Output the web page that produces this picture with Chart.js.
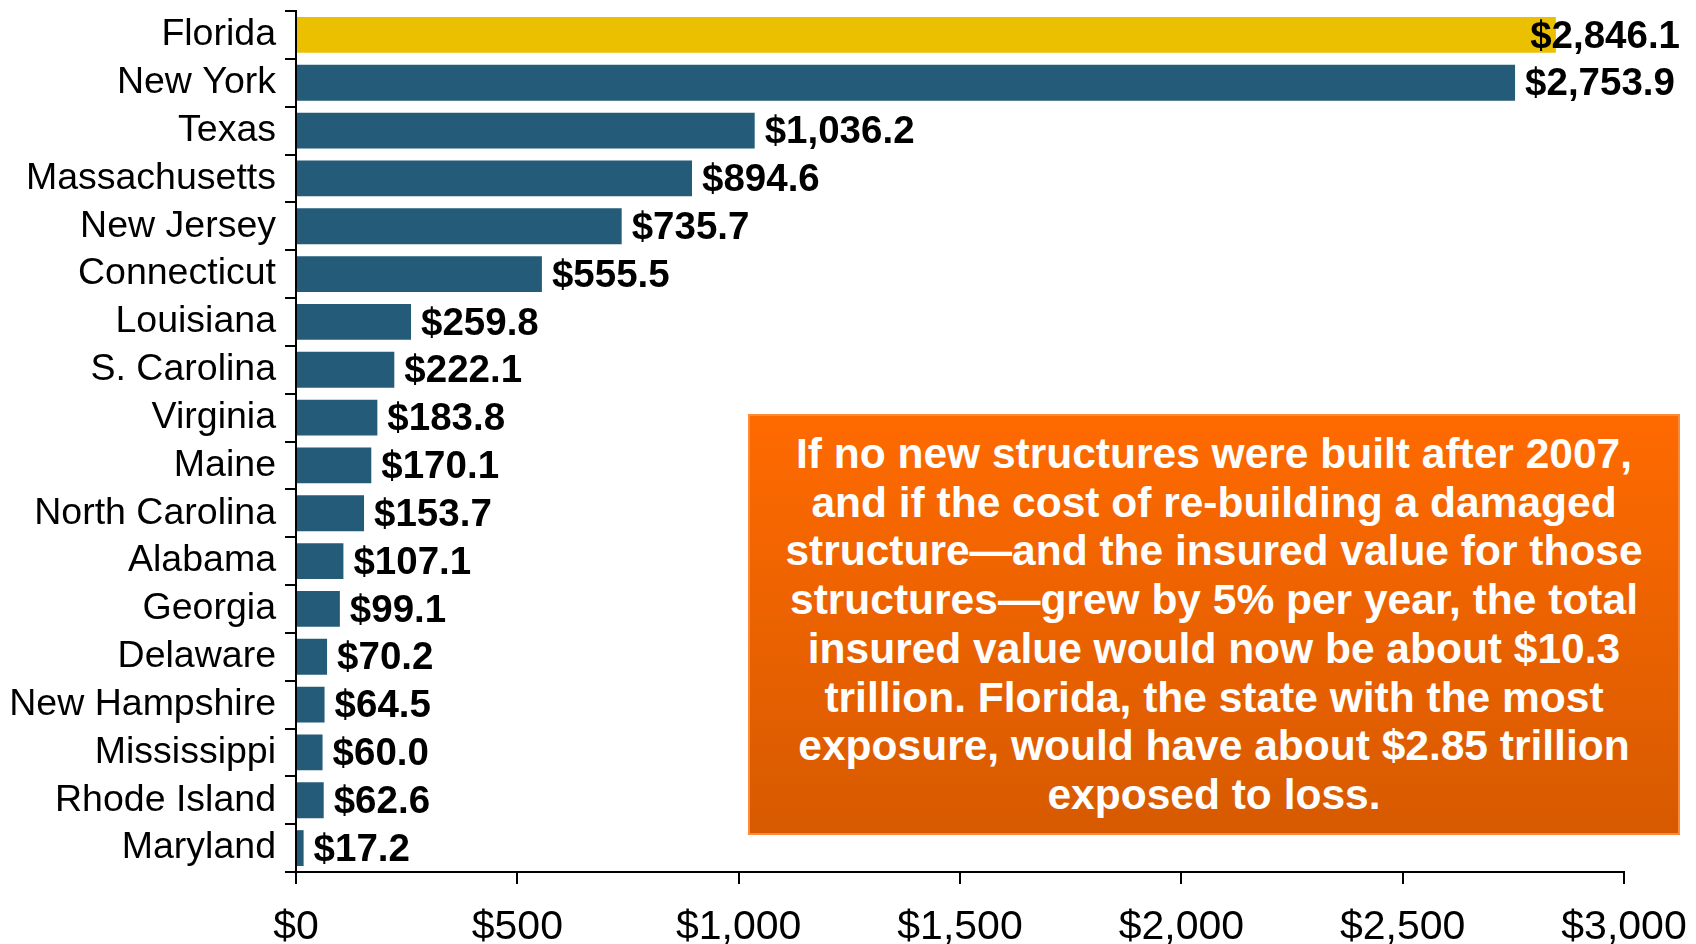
<!DOCTYPE html>
<html>
<head>
<meta charset="utf-8">
<script src="https://cdn.jsdelivr.net/npm/chart.js@4/dist/chart.umd.min.js"></script>
<style>
  html, body { margin: 0; padding: 0; background: #fff; overflow: hidden; }
  #wrap { position: relative; width: 1696px; height: 944px; }
  #note {
    position: absolute; left: 748px; top: 414px; width: 928px; height: 403px;
    border: 2px solid #ff8a3a;
    background: linear-gradient(#ff6a00, #d75a00);
    color: #fff; font: bold 42.5px "Liberation Sans", Arial, sans-serif;
    line-height: 48.7px; text-align: center; padding-top: 14px; box-sizing: content-box;
    white-space: nowrap;
  }
</style>
</head>
<body>
<div id="wrap">
  <canvas id="chart" width="1696" height="944"></canvas>
  <div id="note">If no new structures were built after 2007,<br>and if the cost of re-building a damaged<br>structure—and the insured value for those<br>structures—grew by 5% per year, the total<br>insured value would now be about $10.3<br>trillion. Florida, the state with the most<br>exposure, would have about $2.85 trillion<br>exposed to loss.</div>
</div>
<script>
const states = ['Florida', 'New York', 'Texas', 'Massachusetts', 'New Jersey', 'Connecticut',
  'Louisiana', 'S. Carolina', 'Virginia', 'Maine', 'North Carolina', 'Alabama', 'Georgia',
  'Delaware', 'New Hampshire', 'Mississippi', 'Rhode Island', 'Maryland'];
const exposure = [2846.1, 2753.9, 1036.2, 894.6, 735.7, 555.5, 259.8, 222.1, 183.8, 170.1,
  153.7, 107.1, 99.1, 70.2, 64.5, 60.0, 62.6, 17.2];
const xTicks = [0, 500, 1000, 1500, 2000, 2500, 3000];

const FONT = '"Liberation Sans", Arial, sans-serif';
const money = v => '$' + v.toLocaleString('en-US');
const money1 = v => '$' + v.toLocaleString('en-US', { minimumFractionDigits: 1, maximumFractionDigits: 1 });

// value labels at bar ends, pulled back in when they would run off the page
const valueLabels = {
  id: 'valueLabels',
  afterDatasetsDraw(chart) {
    const ctx = chart.ctx;
    const meta = chart.getDatasetMeta(0);
    ctx.save();
    ctx.font = 'bold 38.5px ' + FONT;
    ctx.fillStyle = '#000';
    ctx.textBaseline = 'middle';
    ctx.textAlign = 'left';
    meta.data.forEach((bar, i) => {
      const txt = money1(exposure[i]);
      const w = ctx.measureText(txt).width;
      let x = bar.x + 10;
      if (x + w > chart.width - 16) x = chart.width - 16 - w;
      ctx.fillText(txt, x, bar.y + 2);
    });
    ctx.restore();
  }
};

new Chart(document.getElementById('chart'), {
  type: 'bar',
  data: {
    labels: states,
    datasets: [{
      data: exposure,
      backgroundColor: states.map((s, i) => i === 0 ? '#ebc000' : '#235b79'),
      borderWidth: 0,
      barPercentage: 0.75,
      categoryPercentage: 1
    }]
  },
  options: {
    indexAxis: 'y',
    responsive: false,
    animation: false,
    layout: { padding: { top: 11, right: 72, left: 0, bottom: 0 } },
    plugins: { legend: { display: false }, tooltip: { enabled: false } },
    scales: {
      x: {
        min: 0, max: 3000,
        afterBuildTicks: s => { s.ticks = xTicks.map(v => ({ value: v })); },
        afterFit: s => { s.height = 72; s.paddingLeft = 0; s.paddingRight = 0; },
        ticks: { color: '#000', font: { family: FONT, size: 41 }, padding: 19, callback: v => money(v), maxRotation: 0 },
        grid: { drawOnChartArea: false, color: '#000', lineWidth: 2, tickLength: 12 },
        border: { color: '#000', width: 2 }
      },
      y: {
        afterFit: s => { s.width = 296; s.paddingTop = 0; s.paddingBottom = 0; },
        ticks: { color: '#000', font: { family: FONT, size: 37.5 }, padding: 9, autoSkip: false },
        grid: { drawOnChartArea: false, color: '#000', lineWidth: 2, tickLength: 11, offset: true },
        border: { color: '#000', width: 2 }
      }
    }
  },
  plugins: [valueLabels]
});
</script>
</body>
</html>
